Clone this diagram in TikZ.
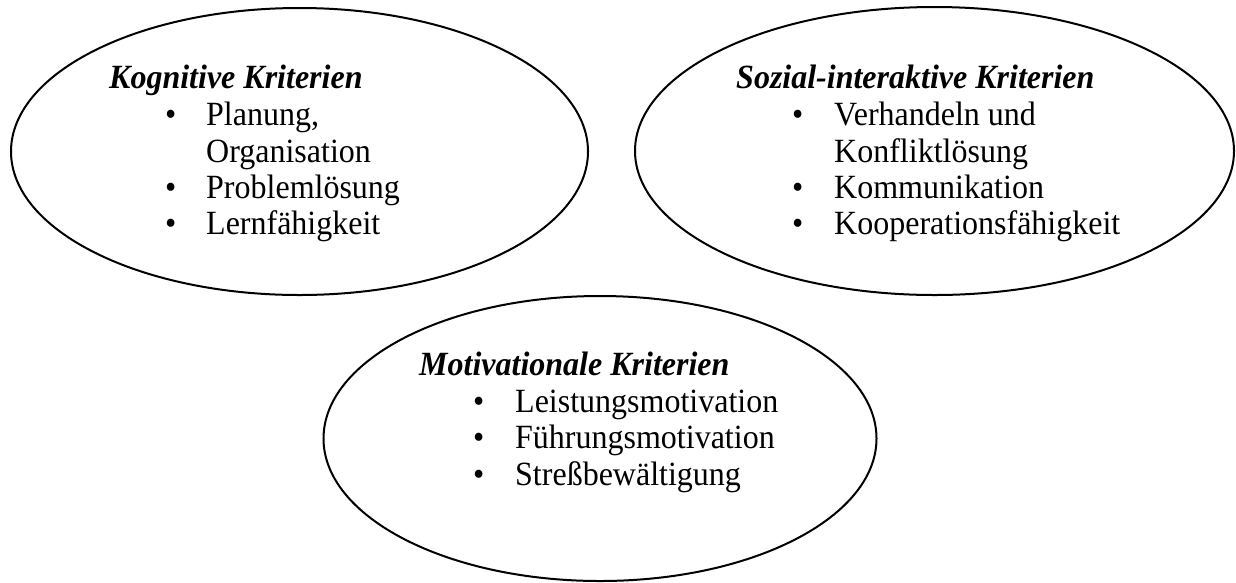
\documentclass[tikz,border=0pt]{standalone}
\usepackage{fontspec}
\setmainfont{Liberation Serif}
\usetikzlibrary{shapes.geometric}
\newcommand\vstr[1]{\scalebox{1}[1.06]{#1}}
\begin{document}
\begin{tikzpicture}[x=1pt,y=-1pt,
  oval/.style={draw=black,line width=2pt,ellipse,inner sep=0pt},
  head/.style={anchor=base west,inner sep=0pt,font=\fontsize{32}{37}\selectfont\bfseries\itshape},
  itm/.style={anchor=base west,inner sep=0pt,font=\fontsize{32}{37}\selectfont}]
\useasboundingbox (0,0) rectangle (1236,582);
% ellipses
\node[oval,minimum width=577pt,minimum height=287pt] (e1) at (299.5,151.5) {};
\node[oval,minimum width=599pt,minimum height=288pt] (e2) at (934.5,151) {};
\node[oval,minimum width=553pt,minimum height=285pt] (e3) at (600,438.5) {};
% Kognitive
\node[head] (h1) at (109,88) {\vstr{Kognitive Kriterien}};
\node[itm] (b11) at (165,125) {\vstr{•}};
\node[itm] (t11) at (206,125) {\vstr{Planung,}};
\node[itm] (t12) at (206,162) {\vstr{Organisation}};
\node[itm] (b13) at (165,198) {\vstr{•}};
\node[itm] (t13) at (206,198) {\vstr{Problemlösung}};
\node[itm] (b14) at (165,234) {\vstr{•}};
\node[itm] (t14) at (206,234) {\vstr{Lernfähigkeit}};
% Sozial
\node[head] (h2) at (736,88) {\vstr{Sozial-interaktive Kriterien}};
\node[itm] (b21) at (792,125) {\vstr{•}};
\node[itm] (t21) at (834,125) {\vstr{Verhandeln und}};
\node[itm] (t22) at (834,162) {\vstr{Konfliktlösung}};
\node[itm] (b23) at (792,198) {\vstr{•}};
\node[itm] (t23) at (834,198) {\vstr{Kommunikation}};
\node[itm] (b24) at (792,234) {\vstr{•}};
\node[itm] (t24) at (834,234) {\vstr{Kooperationsfähigkeit}};
% Motivationale
\node[head] (h3) at (419,375) {\vstr{Motivationale Kriterien}};
\node[itm] (b31) at (473,412) {\vstr{•}};
\node[itm] (t31) at (515,412) {\vstr{Leistungsmotivation}};
\node[itm] (b32) at (473,448) {\vstr{•}};
\node[itm] (t32) at (515,448) {\vstr{Führungsmotivation}};
\node[itm] (b33) at (473,485) {\vstr{•}};
\node[itm] (t33) at (515,485) {\vstr{Streßbewältigung}};
\end{tikzpicture}
\end{document}
